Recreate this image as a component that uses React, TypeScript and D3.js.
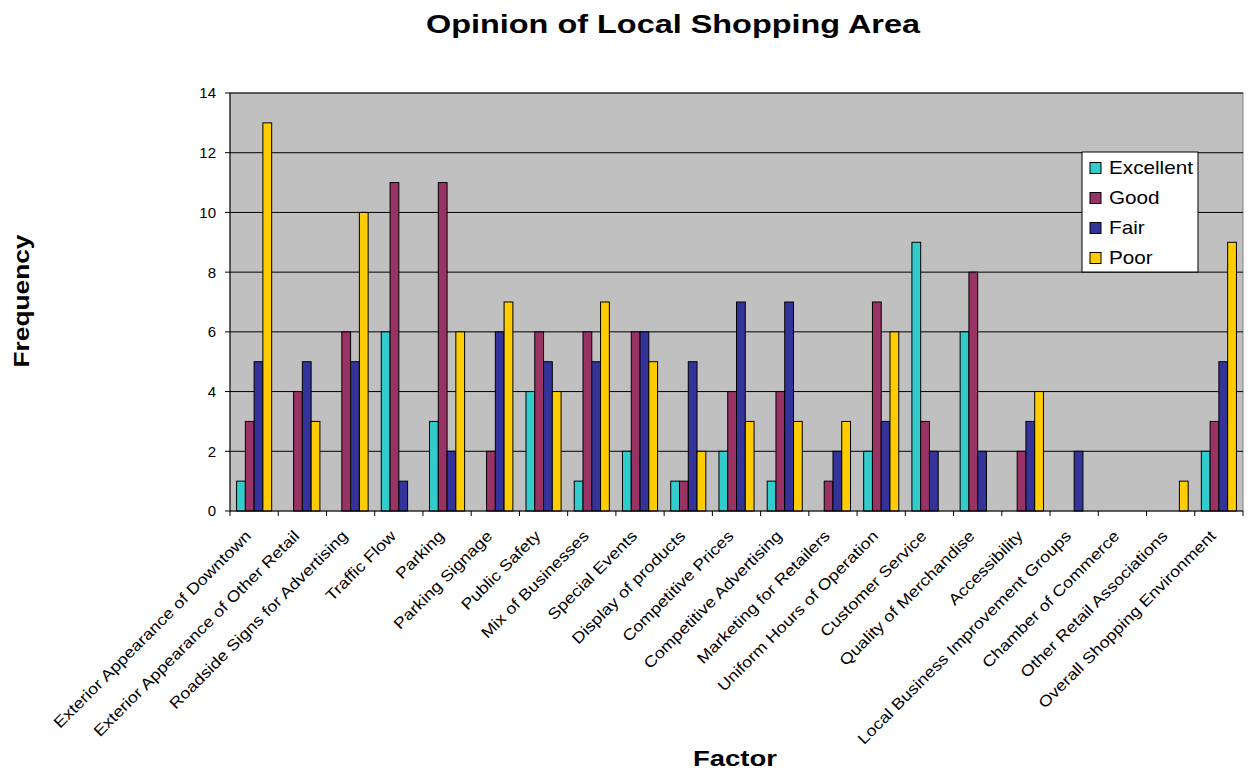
import React from "react";
import * as d3 from "d3";

const categories = [
  "Exterior Appearance of Downtown",
  "Exterior Appearance of Other Retail",
  "Roadside Signs for Advertising",
  "Traffic Flow",
  "Parking",
  "Parking Signage",
  "Public Safety",
  "Mix of Businesses",
  "Special Events",
  "Display of products",
  "Competitive Prices",
  "Competitive Advertising",
  "Marketing for Retailers",
  "Uniform Hours of Operation",
  "Customer Service",
  "Quality of Merchandise",
  "Accessibility",
  "Local Business Improvement Groups",
  "Chamber of Commerce",
  "Other Retail Associations",
  "Overall Shopping Environment",
];

const seriesNames = ["Excellent", "Good", "Fair", "Poor"];
const excellent = [1, 0, 0, 6, 3, 0, 4, 1, 2, 1, 2, 1, 0, 2, 9, 6, 0, 0, 0, 0, 2];
const good = [3, 4, 6, 11, 11, 2, 6, 6, 6, 1, 4, 4, 1, 7, 3, 8, 2, 0, 0, 0, 3];
const fair = [5, 5, 5, 1, 2, 6, 5, 5, 6, 5, 7, 7, 2, 3, 2, 2, 3, 2, 0, 0, 5];
const poor = [13, 3, 10, 0, 6, 7, 4, 7, 5, 2, 3, 3, 3, 6, 0, 0, 4, 0, 0, 1, 9];
const yTicks = [0, 2, 4, 6, 8, 10, 12, 14];
const colors = ["#33CCCC", "#993366", "#333399", "#FFCC00"];

const seriesValues = [excellent, good, fair, poor];

const W = 1252;
const H = 772;
const plot = { left: 230, right: 1243, top: 93, bottom: 511 };
const FONT = "Arial, 'Liberation Sans', sans-serif";

export default function App() {
  const x0 = d3
    .scaleBand<string>()
    .domain(categories)
    .range([plot.left, plot.right])
    .paddingInner(0)
    .paddingOuter(0);
  const x1 = d3
    .scaleBand<string>()
    .domain(seriesNames)
    .range([0, x0.bandwidth()])
    .paddingInner(0)
    .paddingOuter(0.75);
  const y = d3.scaleLinear().domain([0, 14]).range([plot.bottom, plot.top]);

  const legend = { x: 1082, y: 152, w: 116, h: 120 };

  return (
    <svg
      width={W}
      height={H}
      style={{ position: "absolute", left: 0, top: 0, background: "#fff" }}
      fontFamily={FONT}
    >
      <text
        x={673}
        y={33}
        textAnchor="middle"
        fontSize={26}
        fontWeight="bold"
        textLength={494}
        lengthAdjust="spacingAndGlyphs"
      >
        Opinion of Local Shopping Area
      </text>
      <rect
        x={plot.left}
        y={plot.top}
        width={plot.right - plot.left}
        height={plot.bottom - plot.top}
        fill="#C0C0C0"
        stroke="#808080"
        strokeWidth={1}
      />
      {yTicks.map((t) => (
        <g key={t}>
          {t > 0 && (
            <line
              x1={plot.left}
              x2={plot.right}
              y1={y(t)}
              y2={y(t)}
              stroke="#000"
              strokeWidth={1}
            />
          )}
          <line
            x1={plot.left - 5}
            x2={plot.left}
            y1={y(t)}
            y2={y(t)}
            stroke="#000"
          />
          <text
            x={plot.left - 14}
            y={y(t)}
            dy="0.36em"
            textAnchor="end"
            fontSize={15}
          >
            {t}
          </text>
        </g>
      ))}
      {categories.map((c, i) => (
        <g key={c}>
          {seriesNames.map((s, j) => {
            const v = seriesValues[j][i];
            if (v <= 0) return null;
            return (
              <rect
                key={s}
                x={(x0(c) as number) + (x1(s) as number)}
                y={y(v)}
                width={x1.bandwidth()}
                height={y(0) - y(v)}
                fill={colors[j]}
                stroke="#000"
                strokeWidth={1}
              />
            );
          })}
        </g>
      ))}
      <line
        x1={plot.left}
        x2={plot.left}
        y1={plot.top}
        y2={plot.bottom}
        stroke="#000"
      />
      <line
        x1={plot.left}
        x2={plot.right}
        y1={plot.bottom}
        y2={plot.bottom}
        stroke="#000"
      />
      {categories.map((c) => (
        <line
          key={"t" + c}
          x1={(x0(c) as number) + x0.bandwidth()}
          x2={(x0(c) as number) + x0.bandwidth()}
          y1={plot.bottom}
          y2={plot.bottom + 5}
          stroke="#000"
        />
      ))}
      <line
        x1={plot.left}
        x2={plot.left}
        y1={plot.bottom}
        y2={plot.bottom + 5}
        stroke="#000"
      />
      {categories.map((c) => {
        const cx = (x0(c) as number) + x0.bandwidth() / 2;
        const ax = cx - 2;
        const ay = plot.bottom + 26;
        return (
          <text
            key={"l" + c}
            transform={`translate(${ax}, ${ay}) rotate(-45) scale(1.16, 1)`}
            textAnchor="end"
            fontSize={15.5}
          >
            {c}
          </text>
        );
      })}
      <text
        transform={`translate(29, 301) rotate(-90)`}
        textAnchor="middle"
        fontSize={22}
        fontWeight="bold"
        textLength={133}
        lengthAdjust="spacingAndGlyphs"
      >
        Frequency
      </text>
      <text
        x={735}
        y={766}
        textAnchor="middle"
        fontSize={22}
        fontWeight="bold"
        textLength={84}
        lengthAdjust="spacingAndGlyphs"
      >
        Factor
      </text>
      <rect
        x={legend.x}
        y={legend.y}
        width={legend.w}
        height={legend.h}
        fill="#fff"
        stroke="#000"
        strokeWidth={1}
      />
      {seriesNames.map((s, j) => {
        const ly = legend.y + 16 + j * 30;
        return (
          <g key={"lg" + s}>
            <rect
              x={legend.x + 8}
              y={ly - 5.5}
              width={11}
              height={11}
              fill={colors[j]}
              stroke="#000"
            />
            <text
              transform={`translate(${legend.x + 27}, ${ly}) scale(1.15, 1)`}
              dy="0.36em"
              fontSize={18}
            >
              {s}
            </text>
          </g>
        );
      })}
    </svg>
  );
}
